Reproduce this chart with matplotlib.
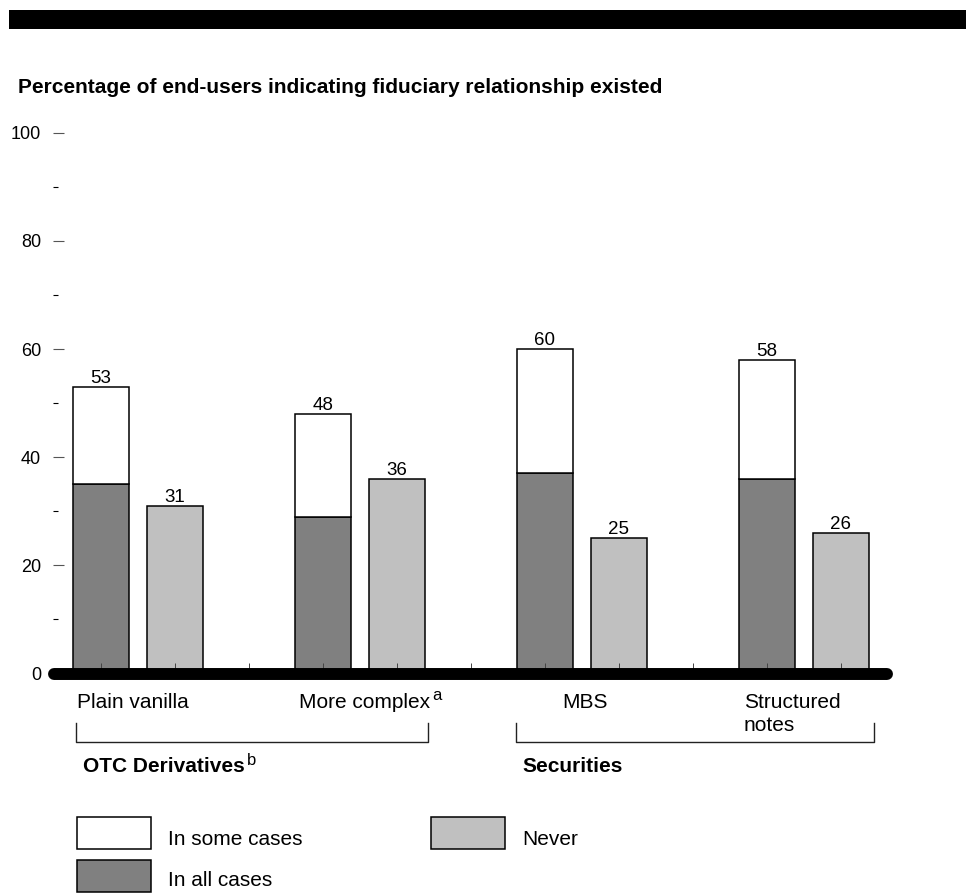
import matplotlib
matplotlib.use("Agg")
import matplotlib.pyplot as plt
from matplotlib.patches import Rectangle
import numpy as np

plt.rcParams['font.family'] = ['Liberation Sans', 'DejaVu Sans']

# Survey results (percent of end-users)
categories = ["Plain vanilla", "More complex", "MBS", "Structured notes"]
all_cases = [35, 29, 37, 36]
some_or_all = [53, 48, 60, 58]
never = [31, 36, 25, 26]
some_cases = [t - a for t, a in zip(some_or_all, all_cases)]

W, H = 966, 894
fig = plt.figure(figsize=(W / 100, H / 100), dpi=100)


def fx(px):
    return px / W


def fy(py):
    return 1 - py / H


DARK = '#808080'
LIGHT = '#c0c0c0'
EDGE_LW = 1.1

ax = fig.add_axes([fx(53), fy(673.5), (889 - 53) / W, (673.5 - 132.7) / H])

pos_all = np.array([0, 3, 6, 9])
pos_never = pos_all + 1
width = 0.75

ax.bar(pos_all, all_cases, width, color=DARK, edgecolor='black', linewidth=EDGE_LW)
ax.bar(pos_all, some_cases, width, bottom=all_cases, color='white',
       edgecolor='black', linewidth=EDGE_LW)
ax.bar(pos_never, never, width, color=LIGHT, edgecolor='black', linewidth=EDGE_LW)

for x, v in zip(pos_all, some_or_all):
    ax.annotate(str(v), (x, v), xytext=(0, 0), textcoords='offset points',
                ha='center', va='bottom', fontsize=13.5)
for x, v in zip(pos_never, never):
    ax.annotate(str(v), (x, v), xytext=(0, 0), textcoords='offset points',
                ha='center', va='bottom', fontsize=13.5)

ax.set_xlim(-0.65, 10.65)
ax.set_ylim(0, 100)
ax.set_yticks(np.arange(0, 101, 20))
ax.set_yticks(np.arange(10, 100, 20), minor=True)
ax.set_xticks(np.arange(0, 11))
ax.tick_params(axis='y', which='major', direction='in', length=7.9, width=0.8,
               color='#555555', pad=8.6, labelsize=13)
ax.tick_params(axis='y', which='minor', direction='in', length=3.6, width=0.8,
               color='black')
ax.tick_params(axis='x', which='major', direction='in', length=8, width=0.7,
               color='#444444', labelbottom=False)
for s in ax.spines.values():
    s.set_visible(False)
ax.set_axisbelow(False)

# heavy baseline with rounded ends
ax.plot([-0.635, 10.62], [0, 0], color='black', lw=8.6,
        solid_capstyle='round', clip_on=False, zorder=5)

# category labels
lab_kw = dict(fontsize=15, va='baseline', clip_on=False)
ax.text(0.432, -6.38, categories[0], ha='center', **lab_kw)
ax.text(3.568, -6.38, categories[1], ha='center', **lab_kw)
ax.text(4.48, -4.9, 'a', ha='left', fontsize=12, va='baseline', clip_on=False)
ax.text(6.54, -6.38, categories[2], ha='center', **lab_kw)
first, second = categories[3].split(' ')
ax.text(8.69, -6.38, first, ha='left', **lab_kw)
ax.text(8.69, -10.7, second, ha='left', **lab_kw)

# group brackets
bk = dict(color='#222222', lw=1.0, clip_on=False)
ax.plot([-0.338, -0.338, 4.42, 4.42], [-9.15, -12.67, -12.67, -9.15], **bk)
ax.plot([5.61, 5.61, 10.45, 10.45], [-9.15, -12.67, -12.67, -9.15], **bk)

ax.text(-0.243, -18.15, 'OTC Derivatives', fontsize=15, fontweight='bold',
        ha='left', va='baseline', clip_on=False)
ax.text(1.97, -16.9, 'b', fontsize=12, ha='left', va='baseline', clip_on=False)
ax.text(5.69, -18.15, 'Securities', fontsize=15, fontweight='bold',
        ha='left', va='baseline', clip_on=False)

# header band and title
fig.patches.append(Rectangle((fx(9), fy(29)), (966 - 9) / W, (29 - 10) / H,
                             transform=fig.transFigure, fc='black', ec='none'))
fig.text(fx(18), fy(93), 'Percentage of end-users indicating fiduciary relationship existed',
         fontsize=15, fontweight='bold', ha='left', va='baseline')

# legend
legend_items = [
    (77, 817, 'white', 'In some cases', 168, 845),
    (77, 860, DARK, 'In all cases', 168, 885.7),
    (431, 817, LIGHT, 'Never', 522, 845),
]
for bx, by, col, label, tx, ty in legend_items:
    fig.patches.append(Rectangle((fx(bx), fy(by + 32)), 74 / W, 32 / H,
                                 transform=fig.transFigure, fc=col, ec='black',
                                 lw=EDGE_LW))
    fig.text(fx(tx), fy(ty), label, fontsize=15, ha='left', va='baseline')

fig.savefig('out.png', dpi=100)
